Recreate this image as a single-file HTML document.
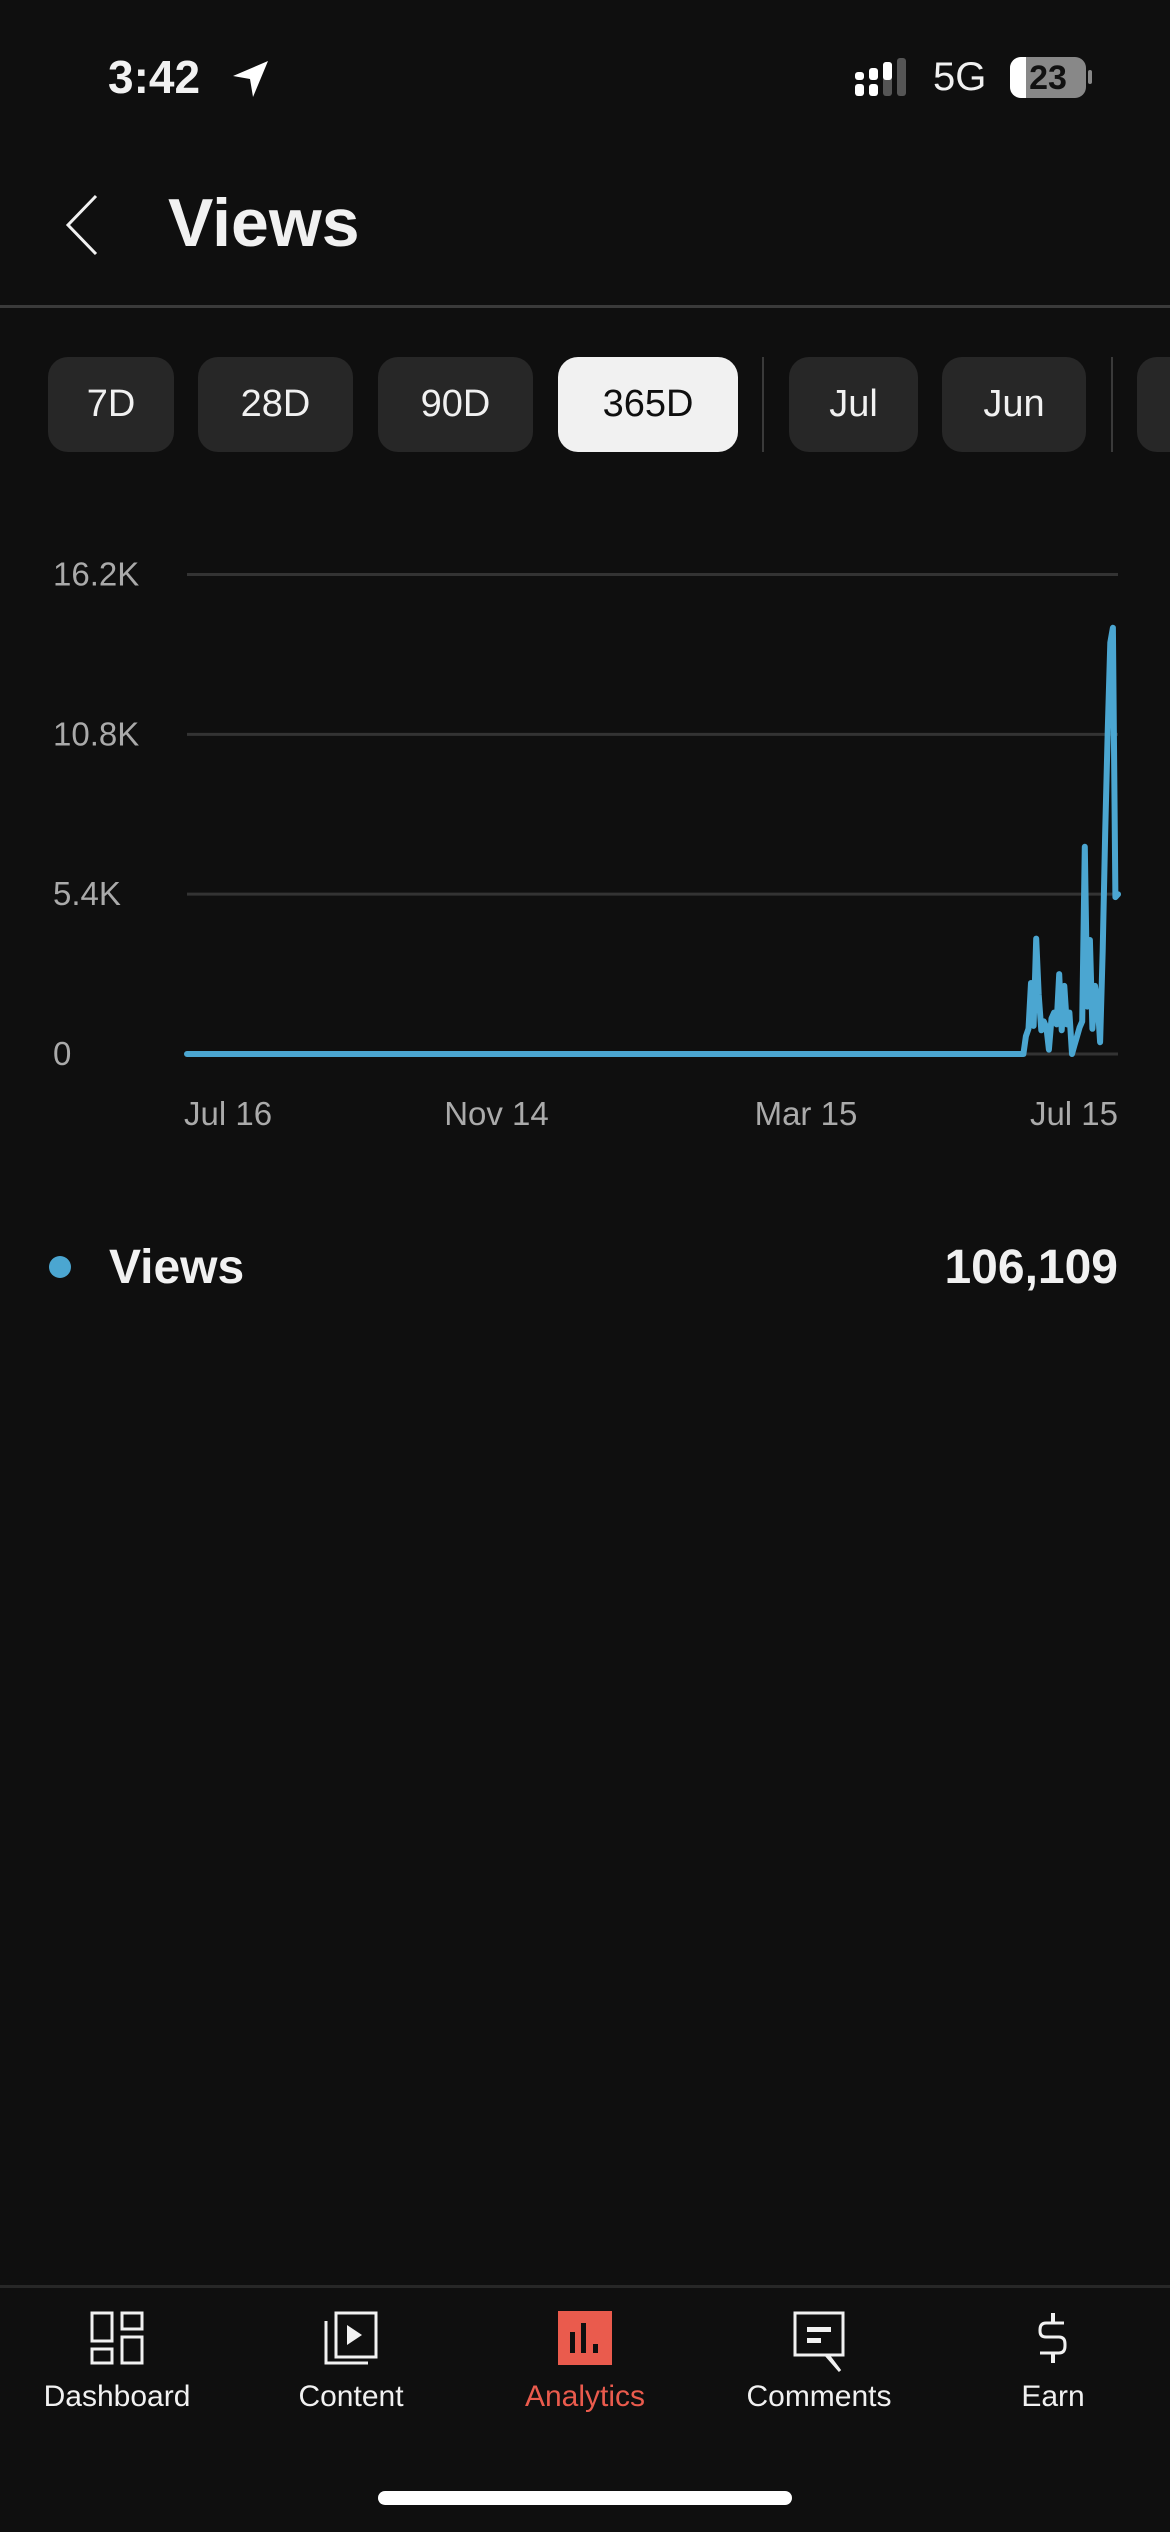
<!DOCTYPE html>
<html><head><meta charset="utf-8"><style>
html,body{margin:0;padding:0;background:#0f0f0f;}
body{width:1170px;height:2532px;position:relative;overflow:hidden;font-family:"Liberation Sans",sans-serif;color:#f1f1f1;}
.abs{position:absolute;}
.chip{position:absolute;top:357px;height:95px;border-radius:20px;background:#272727;color:#f1f1f1;font-size:38px;display:flex;align-items:center;justify-content:center;}
.sep{position:absolute;top:357px;width:2px;height:95px;background:#3a3a3a;}
.nav{position:absolute;top:2280px;width:234px;height:150px;text-align:center;}
.nav svg{position:absolute;left:50%;top:31px;transform:translateX(-50%);}
.nav span{position:absolute;left:0;right:0;top:100px;font-size:30px;}
</style></head><body>
<div class="abs" style="left:108px;top:50px;font-size:46px;font-weight:bold;">3:42</div>
<svg class="abs" style="left:230px;top:58px" width="42" height="42" viewBox="0 0 42 42"><path d="M38 3 L3 18 L20 21 L23 39 Z" fill="#fff"/></svg>
<svg class="abs" style="left:855px;top:58px" width="56" height="40"><rect x="0" y="14" width="9" height="8" rx="3" fill="#fff"/><rect x="0" y="26" width="9" height="12" rx="3" fill="#fff"/><rect x="14" y="10" width="9" height="12" rx="3" fill="#fff"/><rect x="14" y="26" width="9" height="12" rx="3" fill="#fff"/><rect x="28" y="4" width="9" height="34" rx="3" fill="#555"/><rect x="28" y="4" width="9" height="18" rx="3" fill="#fff"/><rect x="42" y="0" width="9" height="38" rx="3" fill="#555"/></svg>
<div class="abs" style="left:933px;top:55px;font-size:40px;">5G</div>
<div class="abs" style="left:1010px;top:57px;width:76px;height:41px;border-radius:11px;background:#888;overflow:hidden;"><div style="position:absolute;left:0;top:0;width:16px;height:41px;background:#fff;"></div><div style="position:absolute;left:0;right:0;top:2px;text-align:center;font-size:34px;font-weight:bold;color:#111;">23</div></div>
<div class="abs" style="left:1088px;top:70px;width:4px;height:14px;background:#888;border-radius:2px;"></div>

<svg class="abs" style="left:62px;top:194px" width="40" height="62"><polyline points="34,2 6,31 34,60" fill="none" stroke="#f1f1f1" stroke-width="3"/></svg>
<div class="abs" style="left:168px;top:184px;font-size:68px;font-weight:bold;">Views</div>
<div class="abs" style="left:0;top:305px;width:1170px;height:3px;background:#3a3a3a;"></div>

<div class="chip" style="left:48px;width:126px;">7D</div>
<div class="chip" style="left:198px;width:155px;">28D</div>
<div class="chip" style="left:378px;width:155px;">90D</div>
<div class="chip" style="left:558px;width:180px;background:#f1f1f1;color:#0f0f0f;">365D</div>
<div class="sep" style="left:762px;"></div>
<div class="chip" style="left:789px;width:129px;">Jul</div>
<div class="chip" style="left:942px;width:144px;">Jun</div>
<div class="sep" style="left:1111px;"></div>
<div class="chip" style="left:1137px;width:33px;border-radius:20px 0 0 20px;"></div>

<svg class="abs" id="chart" style="left:0;top:540px" width="1170" height="600"></svg>

<div class="abs" style="left:49px;top:1256px;width:22px;height:22px;border-radius:50%;background:#4ba6d1;"></div>
<div class="abs" style="left:109px;top:1240px;font-size:48px;font-weight:bold;">Views</div>
<div class="abs" style="right:52px;top:1240px;font-size:48px;font-weight:bold;">106,109</div>

<div class="abs" style="left:0;top:2285px;width:1170px;height:3px;background:#272727;"></div>
<div class="nav" style="left:0;"><svg width="54" height="54"><rect x="2" y="2" width="20" height="28" fill="none" stroke="#f1f1f1" stroke-width="3"/><rect x="32" y="2" width="20" height="16" fill="none" stroke="#f1f1f1" stroke-width="3"/><rect x="2" y="38" width="20" height="14" fill="none" stroke="#f1f1f1" stroke-width="3"/><rect x="32" y="26" width="20" height="26" fill="none" stroke="#f1f1f1" stroke-width="3"/></svg><span>Dashboard</span></div>
<div class="nav" style="left:234px;"><svg width="54" height="54"><rect x="12" y="2" width="40" height="44" fill="none" stroke="#f1f1f1" stroke-width="3"/><polyline points="2,10 2,52 44,52" fill="none" stroke="#f1f1f1" stroke-width="3"/><path d="M23 14 L38 24 L23 34 Z" fill="#f1f1f1"/></svg><span>Content</span></div>
<div class="nav" style="left:468px;"><svg width="54" height="54"><rect x="0" y="0" width="54" height="54" fill="#ea5b4d"/><rect x="12" y="21" width="5" height="21" fill="#0f0f0f"/><rect x="23" y="12" width="5" height="30" fill="#0f0f0f"/><rect x="35" y="33" width="5" height="9" fill="#0f0f0f"/></svg><span style="color:#ea5b4d">Analytics</span></div>
<div class="nav" style="left:702px;"><svg width="54" height="62"><path d="M3 2 H51 V44 H36 L48 60 L34 44 H3 Z" fill="none" stroke="#f1f1f1" stroke-width="3"/><rect x="15" y="16" width="24" height="5" fill="#f1f1f1"/><rect x="15" y="27" width="14" height="5" fill="#f1f1f1"/></svg><span>Comments</span></div>
<div class="nav" style="left:936px;"><svg width="54" height="54"><path d="M38 12 H20 Q14 12 14 19 V20 Q14 26 20 26 H33 Q39 26 39 33 V35 Q39 42 33 42 H14" fill="none" stroke="#f1f1f1" stroke-width="3"/><line x1="27" y1="2" x2="27" y2="12" stroke="#f1f1f1" stroke-width="4"/><line x1="27" y1="42" x2="27" y2="52" stroke="#f1f1f1" stroke-width="4"/></svg><span>Earn</span></div>
<div class="abs" style="left:378px;top:2491px;width:414px;height:14px;border-radius:7px;background:#fff;"></div>

<script>
const yTicks = [0, 5.4, 10.8, 16.2];
const yTickLabels = ["0", "5.4K", "10.8K", "16.2K"];
const xTickDays = [0, 121, 242, 364];
const xTickLabels = ["Jul 16", "Nov 14", "Mar 15", "Jul 15"];
const leadingZeroDays = 327;
const recentViewsK = [0,0.6,0.85,2.4,0.95,3.9,2.0,0.8,1.1,0.9,0.15,1.2,1.4,1.0,2.7,0.8,2.3,1.0,1.4,0,0.3,0.6,0.9,1.1,7.0,1.6,3.85,0.85,2.3,1.8,0.4,3.5,7.5,11,13.9,14.4,5.3,5.4];
const viewsK = new Array(leadingZeroDays).fill(0).concat(recentViewsK);

const svg = document.getElementById('chart');
const NS = 'http://www.w3.org/2000/svg';
const x0 = 187, x1 = 1118, yBase = 514, yTop = 34.5, yMax = 16.2;
const nDays = 365;
function xs(d){ return x0 + d * (x1 - x0) / (nDays - 1); }
function ys(v){ return yBase - v * (yBase - yTop) / yMax; }

yTicks.forEach((t, i) => {
  const l = document.createElementNS(NS, 'line');
  l.setAttribute('x1', x0); l.setAttribute('x2', x1);
  l.setAttribute('y1', ys(t)); l.setAttribute('y2', ys(t));
  l.setAttribute('stroke', '#333'); l.setAttribute('stroke-width', 3);
  
  
  svg.appendChild(l);
  const tx = document.createElementNS(NS, 'text');
  tx.setAttribute('x', 53); tx.setAttribute('y', ys(t) + 11);
  tx.setAttribute('fill', '#aaa'); tx.setAttribute('font-size', 33);
  tx.setAttribute('font-family', 'Liberation Sans, sans-serif');
  tx.textContent = yTickLabels[i];
  
  
  svg.appendChild(tx);
});
xTickDays.forEach((d, i) => {
  const tx = document.createElementNS(NS, 'text');
  let anchor = 'middle', x = xs(d);
  if (i === 0) { anchor = 'start'; x = x0 - 3; }
  if (i === xTickDays.length - 1) { anchor = 'end'; x = x1; }
  tx.setAttribute('x', x); tx.setAttribute('y', 585);
  tx.setAttribute('text-anchor', anchor);
  tx.setAttribute('fill', '#aaa'); tx.setAttribute('font-size', 33);
  tx.setAttribute('font-family', 'Liberation Sans, sans-serif');
  tx.textContent = xTickLabels[i];
  
  
  svg.appendChild(tx);
});
const path = document.createElementNS(NS, 'polyline');
path.setAttribute('points', viewsK.map((v, d) => xs(d).toFixed(1) + ',' + ys(v).toFixed(1)).join(' '));
path.setAttribute('fill', 'none');
path.setAttribute('stroke', '#4ba6d1');
path.setAttribute('stroke-width', 6);
path.setAttribute('stroke-linejoin', 'round');
path.setAttribute('stroke-linecap', 'round');


svg.appendChild(path);
</script>
</body></html>
